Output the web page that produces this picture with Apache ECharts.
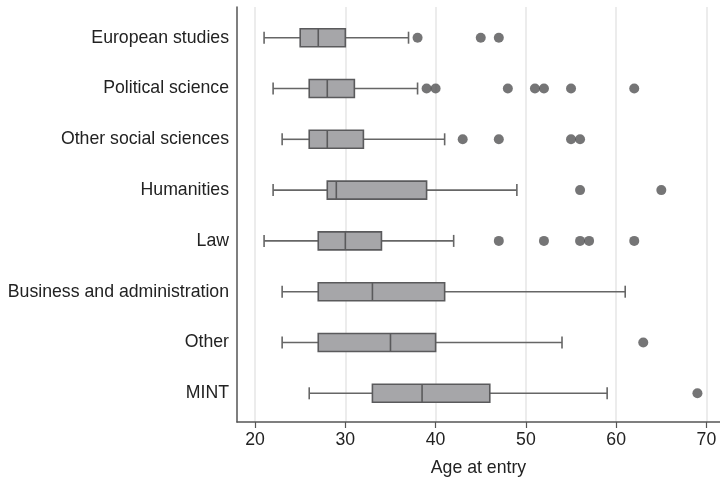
<!DOCTYPE html>
<html>
<head>
<meta charset="utf-8">
<style>
html,body{margin:0;padding:0;background:#fff;}
#chart{width:720px;height:482px;}
</style>
<script src="https://cdn.jsdelivr.net/npm/echarts@6/dist/echarts.min.js"></script>
</head>
<body>
<div id="chart"></div>
<script>
var categories = ['European studies','Political science','Other social sciences','Humanities','Law','Business and administration','Other','MINT'];
var whiskerLow  = [21, 22, 23, 22, 21, 23, 23, 26];
var q1          = [25, 26, 26, 28, 27, 27, 27, 33];
var median      = [27, 28, 28, 29, 30, 33, 35, 38.5];
var q3          = [30, 31, 32, 39, 34, 41, 40, 46];
var whiskerHigh = [37, 38, 41, 49, 42, 61, 54, 59];
var outliers = [
  [38, 45, 47],
  [39, 40, 48, 51, 52, 55, 62],
  [43, 47, 55, 56],
  [56, 65],
  [47, 52, 56, 57, 62],
  [],
  [63],
  [69]
];
var xTicks = [20, 30, 40, 50, 60, 70];

var boxData = categories.map(function (c, i) {
  return [i, whiskerLow[i], q1[i], median[i], q3[i], whiskerHigh[i]];
});
var outlierData = [];
outliers.forEach(function (arr, i) {
  arr.forEach(function (v) { outlierData.push([v, i]); });
});

var FONT = 'Liberation Sans, Arial, sans-serif';
var chart = echarts.init(document.getElementById('chart'), null, {renderer: 'canvas'});

function renderBox(params, api) {
  var ci = api.value(0);
  var pWL = api.coord([api.value(1), ci]);
  var pQ1 = api.coord([api.value(2), ci]);
  var pMed = api.coord([api.value(3), ci]);
  var pQ3 = api.coord([api.value(4), ci]);
  var pWH = api.coord([api.value(5), ci]);
  var y = pQ1[1];
  var bh = 18, ch = 12;
  var lineStyle = {stroke: '#666666', lineWidth: 1.6, fill: null};
  return {
    type: 'group',
    children: [
      {type: 'line', shape: {x1: pWL[0], y1: y, x2: pQ1[0], y2: y}, style: lineStyle},
      {type: 'line', shape: {x1: pQ3[0], y1: y, x2: pWH[0], y2: y}, style: lineStyle},
      {type: 'line', shape: {x1: pWL[0], y1: y - ch / 2, x2: pWL[0], y2: y + ch / 2}, style: lineStyle},
      {type: 'line', shape: {x1: pWH[0], y1: y - ch / 2, x2: pWH[0], y2: y + ch / 2}, style: lineStyle},
      {type: 'rect', shape: {x: pQ1[0], y: y - bh / 2, width: pQ3[0] - pQ1[0], height: bh},
        style: {fill: '#a6a6a9', stroke: '#5a5a5c', lineWidth: 1.6}},
      {type: 'line', shape: {x1: pMed[0], y1: y - bh / 2, x2: pMed[0], y2: y + bh / 2},
        style: {stroke: '#5a5a5c', lineWidth: 1.6}}
    ]
  };
}

chart.setOption({
  animation: false,
  backgroundColor: '#ffffff',
  grid: [
    {left: 237, right: 0, top: 7, bottom: 58, containLabel: false},
    {left: 237, right: 0, top: 12.3, bottom: 63.3, containLabel: false}
  ],
  xAxis: [
    {
      type: 'value', gridIndex: 0, min: 18, max: 71.5,
      name: 'Age at entry', nameLocation: 'middle', nameGap: 37,
      nameTextStyle: {fontFamily: FONT, fontSize: 17.7, color: '#222222'},
      axisLine: {show: true, lineStyle: {color: '#555555', width: 1.5}},
      axisTick: {show: true, length: 6, customValues: xTicks, lineStyle: {color: '#555555', width: 1.2}},
      axisLabel: {show: true, customValues: xTicks, margin: 9, fontFamily: FONT, fontSize: 17.7, color: '#222222'},
      splitLine: {show: false}
    },
    {
      type: 'value', gridIndex: 1, min: 18, max: 71.5, show: false
    }
  ],
  yAxis: [
    {
      type: 'value', gridIndex: 0, min: 0, max: 1,
      axisLine: {show: true, lineStyle: {color: '#555555', width: 1.5}},
      axisTick: {show: false}, axisLabel: {show: false}, splitLine: {show: false}
    },
    {
      type: 'category', gridIndex: 1, inverse: true, data: categories,
      axisLine: {show: false}, axisTick: {show: false},
      axisLabel: {margin: 8, fontFamily: FONT, fontSize: 17.7, color: '#222222'},
      splitLine: {show: false}
    }
  ],
  series: [
    {
      type: 'line', xAxisIndex: 0, yAxisIndex: 0, data: [], silent: true, z: 0,
      markLine: {
        silent: true, z: 0, symbol: ['none', 'none'], label: {show: false},
        lineStyle: {color: '#e6e6e6', width: 1.5, type: 'solid'},
        data: xTicks.map(function (v) { return {xAxis: v}; })
      }
    },
    {
      type: 'custom', xAxisIndex: 1, yAxisIndex: 1,
      renderItem: renderBox, data: boxData, z: 10
    },
    {
      type: 'scatter', xAxisIndex: 1, yAxisIndex: 1, data: outlierData,
      symbol: 'circle', symbolSize: 10, itemStyle: {color: '#525254'}, z: 11
    }
  ]
});
</script>
</body>
</html>
